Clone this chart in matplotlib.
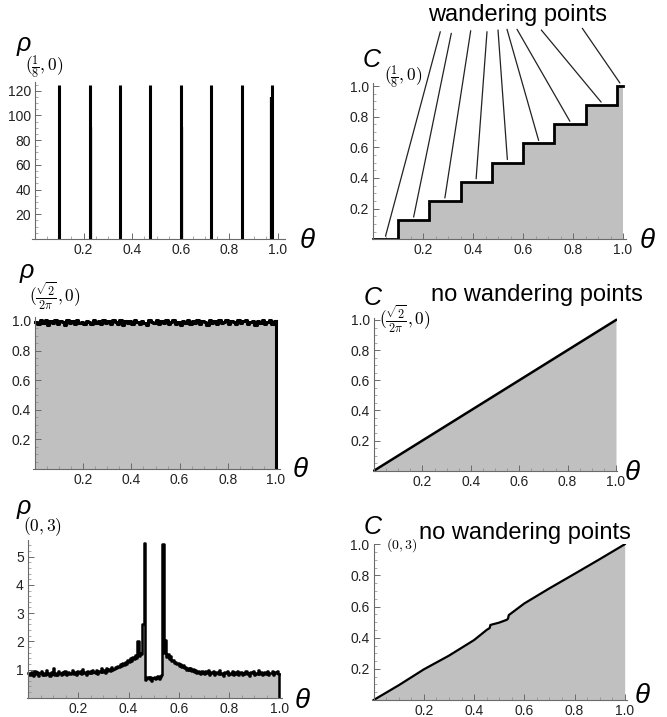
import numpy as np
import matplotlib.pyplot as plt
from matplotlib.ticker import MultipleLocator

plt.rcParams['mathtext.fontset'] = 'cm'
plt.rcParams['font.family'] = ['Liberation Sans', 'DejaVu Sans']

# -----------------------------
# DATA
# -----------------------------
# top-left: density spikes for (1/8, 0)
spike_x = [0.1, 0.225, 0.35, 0.475, 0.6, 0.725, 0.85, 0.975]
spike_h = [125, 125, 125, 125, 125, 125, 125, 125]
side_x = [0.229, 0.604, 0.971]
side_h = [91, 91, 115]

# top-right: staircase CDF
stair_edges = [0.0, 0.1, 0.225, 0.35, 0.475, 0.6, 0.725, 0.85, 0.975, 1.0]
stair_vals = [0.0, 0.125, 0.25, 0.375, 0.5, 0.625, 0.75, 0.875, 1.0]

# middle-left: density for (sqrt2/2pi, 0), 100 bins
rho_mid = [
    0.995, 0.978, 1.005, 0.985, 1.008, 0.975, 0.998, 0.988, 1.004, 0.980,
    1.002, 0.990, 0.976, 1.006, 0.984, 0.999, 0.979, 1.007, 0.987, 0.996,
    0.981, 1.003, 0.992, 0.977, 1.005, 0.986, 1.000, 0.982, 1.008, 0.989,
    0.997, 0.978, 1.004, 0.991, 0.983, 1.006, 0.975, 0.999, 0.988, 1.003,
    0.980, 1.007, 0.993, 0.979, 1.001, 0.986, 0.972, 1.005, 0.990, 0.984,
    1.008, 0.977, 0.998, 0.987, 1.004, 0.981, 0.995, 1.006, 0.983, 0.992,
    0.976, 1.003, 0.989, 1.007, 0.980, 0.997, 0.985, 1.005, 0.978, 1.001,
    0.991, 0.974, 1.006, 0.988, 0.999, 0.982, 1.004, 0.986, 0.996, 1.008,
    0.979, 1.002, 0.990, 0.977, 1.005, 0.984, 0.998, 1.007, 0.981, 0.993,
    1.003, 0.976, 0.999, 0.987, 1.006, 0.980, 0.995, 1.004, 0.983, 1.001,
]

# middle-right: linear CDF
cdf_mid_x = [0.0, 1.0]
cdf_mid_y = [0.0, 1.0]

# bottom-left: density for (0, 3), 200 bins
rho_bot = [
    0.88, 0.80, 0.92, 0.85, 0.78, 0.95, 0.83, 0.90, 0.76, 0.87,
    0.93, 0.81, 0.86, 0.79, 0.97, 0.84, 0.89, 0.77, 0.91, 0.85,
    1.05, 0.82, 0.88, 0.80, 0.94, 0.86, 0.79, 0.90, 0.84, 0.96,
    0.81, 0.87, 0.92, 0.83, 0.89, 0.98, 0.85, 0.91, 0.80, 0.93,
    0.88, 0.95, 0.84, 1.02, 0.87, 0.90, 0.82, 0.96, 0.89, 0.93,
    0.86, 1.00, 0.91, 0.88, 0.97, 0.85, 0.94, 0.90, 1.04, 0.92,
    0.98, 0.89, 1.06, 0.95, 1.01, 0.93, 1.08, 0.99, 1.03, 1.10,
    1.05, 1.12, 1.08, 1.18, 1.11, 1.22, 1.15, 1.28, 1.20, 1.32,
    1.25, 1.40, 1.30, 1.45, 1.36, 1.52, 1.42, 2.00, 1.48, 1.60,
    1.55, 2.60,
    5.50,
    0.62, 0.70, 0.75, 0.66, 0.72, 0.58, 0.69, 0.74, 0.65, 0.71,
    0.78, 0.68, 0.73, 0.80,
    5.45,
    1.60, 2.05, 1.45, 1.55, 1.38, 1.48, 1.30, 1.35, 1.22, 1.28,
    1.18, 1.24, 1.12, 1.20, 1.08, 1.15, 1.05, 1.10, 1.00, 1.06,
    0.98, 1.04, 0.94, 1.02, 0.92, 0.99, 0.88, 0.96, 0.91, 0.85,
    0.95, 0.89, 0.84, 0.93, 0.87, 0.98, 0.82, 0.90, 0.86, 0.94,
    0.80, 0.88, 0.92, 0.85, 0.97, 0.83, 0.89, 0.78, 0.91, 0.86,
    0.95, 0.81, 0.88, 0.84, 0.93, 0.79, 0.90, 0.85, 0.96, 0.82,
    0.87, 0.92, 0.80, 0.89, 0.84, 0.95, 0.83, 0.88, 0.78, 0.91,
    0.86, 0.94, 0.81, 0.89, 0.85, 0.97, 0.83, 0.90, 0.79, 0.88,
    0.92, 0.84, 0.96, 0.82, 0.89, 0.86, 0.93, 0.80, 0.90, 0.87,
    0.95, 0.84,
]

# bottom-right: CDF for (0, 3)
cdf_bot_x = [0.0, 0.1, 0.2, 0.3, 0.4, 0.45, 0.462, 0.465, 0.5, 0.53, 0.535,
             0.538, 0.6, 0.7, 0.8, 0.9, 1.0]
cdf_bot_y = [0.0, 0.095, 0.197, 0.285, 0.385, 0.45, 0.462, 0.482, 0.497, 0.515,
             0.522, 0.545, 0.62, 0.717, 0.81, 0.904, 1.0]

GRAY = '#c0c0c0'
AXC = '#6a6a6a'

# -----------------------------
# FIGURE / HELPERS
# -----------------------------
W, H = 667, 717
fig = plt.figure(figsize=(W / 100, H / 100), dpi=100)


def make_ax(ox, oy, sx, sy, xlim, ylim, yticks, ylabels, ymin):
    left = ox + xlim[0] * sx
    right = ox + xlim[1] * sx
    bottom = oy - ylim[0] * sy
    top = oy - ylim[1] * sy
    ax = fig.add_axes([left / W, 1 - bottom / H, (right - left) / W, (bottom - top) / H])
    ax.set_xlim(xlim)
    ax.set_ylim(ylim)
    ax.patch.set_alpha(0)
    for s in ['top', 'right']:
        ax.spines[s].set_visible(False)
    for s in ['left', 'bottom']:
        ax.spines[s].set_position(('data', 0))
        ax.spines[s].set_color(AXC)
        ax.spines[s].set_linewidth(0.8)
    ax.set_xticks([0.2, 0.4, 0.6, 0.8, 1.0])
    ax.set_xticklabels(['0.2', '0.4', '0.6', '0.8', '1.0'])
    ax.set_yticks(yticks)
    ax.set_yticklabels(ylabels)
    ax.xaxis.set_minor_locator(MultipleLocator(0.05))
    ax.yaxis.set_minor_locator(MultipleLocator(ymin))
    ax.tick_params(which='major', direction='in', length=4, width=0.7, color=AXC,
                   labelcolor='#222222', labelsize=10, pad=3)
    ax.tick_params(which='minor', direction='in', length=2, width=0.5, color='#888888')
    return ax


def ftext(x, y, s, **kw):
    fig.text(x / W, 1 - y / H, s, **kw)


unit_ticks = [0.2, 0.4, 0.6, 0.8, 1.0]
unit_labels = ['0.2', '0.4', '0.6', '0.8', '1.0']

# -----------------------------
# TOP-LEFT
# -----------------------------
ax = make_ax(35, 239, 243, 1.236, (-0.014, 1.03), (0, 127.3),
             [20, 40, 60, 80, 100, 120], ['20', '40', '60', '80', '100', '120'], 5)
ax.vlines(spike_x, 0, spike_h, color='black', lw=2.2)
ax.vlines(side_x, 0, side_h, color='black', lw=1.6)

# -----------------------------
# TOP-RIGHT
# -----------------------------
ax = make_ax(373, 239.3, 250, 153.3, (-0.005, 1.012), (0, 1.02),
             unit_ticks, unit_labels, 0.05)
sx = np.repeat(stair_edges, 2)[1:-1]
sy = np.repeat(stair_vals, 2)
ax.fill_between(sx, 0, sy, color=GRAY, lw=0)
ax.plot(sx, sy, color='black', lw=2.0, solid_joinstyle='miter')

# annotation lines from "wandering points"
starts = [(440.3, 31.7), (451.3, 33.3), (470.7, 30.7), (487, 31.7), (498, 30),
          (507, 29.3), (517, 29.3), (541.3, 30), (582.3, 28.3)]
mids = [(stair_edges[i] + stair_edges[i + 1]) / 2 for i in range(len(stair_vals))]
for (px_, py_), mx, v in zip(starts, mids, stair_vals):
    ax.annotate('', xy=(mx, v + 0.02), xycoords='data',
                xytext=(px_, H - py_), textcoords='figure pixels',
                arrowprops=dict(arrowstyle='-', lw=0.9, color='#222222',
                                shrinkA=0, shrinkB=0),
                annotation_clip=False)

# -----------------------------
# MIDDLE-LEFT
# -----------------------------
ax = make_ax(35, 469, 241, 148, (-0.01, 1.017), (0, 1.03),
             unit_ticks, unit_labels, 0.05)
n = len(rho_mid)
edges = np.linspace(0, 1, n + 1)
yy = np.append(rho_mid, rho_mid[-1])
ax.fill_between(edges, 0, yy, step='post', color=GRAY, lw=0)
ax.step(edges, yy, where='post', color='black', lw=2.2)
ax.plot([1.0, 1.0], [0, rho_mid[-1]], color='black', lw=2.2)

# -----------------------------
# MIDDLE-RIGHT
# -----------------------------
ax = make_ax(374, 470.7, 242, 150.7, (-0.005, 1.005), (0, 1.013),
             unit_ticks, unit_labels, 0.05)
ax.fill_between(cdf_mid_x, 0, cdf_mid_y, color=GRAY, lw=0)
ax.plot(cdf_mid_x, cdf_mid_y, color='black', lw=1.8)

# -----------------------------
# BOTTOM-LEFT
# -----------------------------
ax = make_ax(28, 697.7, 251.3, 28.2, (-0.005, 1.012), (0, 5.59),
             [1, 2, 3, 4, 5], ['1', '2', '3', '4', '5'], 0.2)
n = len(rho_bot)
edges = np.linspace(0, 1, n + 1)
yy = np.append(rho_bot, rho_bot[-1])
ax.fill_between(edges, 0, yy, step='post', color=GRAY, lw=0)
ax.step(edges, yy, where='post', color='black', lw=1.8)
ax.plot([1.0, 1.0], [0, rho_bot[-1]], color='black', lw=1.8)

# -----------------------------
# BOTTOM-RIGHT
# -----------------------------
ax = make_ax(373.7, 700, 251, 155.7, (-0.005, 1.01), (0, 1.004),
             unit_ticks, unit_labels, 0.05)
ax.fill_between(cdf_bot_x, 0, cdf_bot_y, color=GRAY, lw=0)
ax.plot(cdf_bot_x, cdf_bot_y, color='black', lw=1.6)

# -----------------------------
# LABELS
# -----------------------------
sym = dict(fontsize=18, style='italic', color='black', ha='left', va='baseline')
sub = dict(fontsize=12.5, color='black', ha='left', va='center')

ftext(17, 51, 'ρ', **sym)
ftext(25, 67, r'$(\frac{1}{8},0)$', **sub)
ftext(20, 278, 'ρ', **sym)
ftext(29, 296, r'$(\frac{\sqrt{2}}{2\pi},0)$', **sub)
ftext(17, 514, 'ρ', **sym)
ftext(23, 527, r'$(0,3)$', **sub)

ftext(363, 67, 'C', **sym)
ftext(384, 77, r'$(\frac{1}{8},0)$', **sub)
ftext(364, 305, 'C', **sym)
ftext(379, 318.5, r'$(\frac{\sqrt{2}}{2\pi},0)$', **sub)
ftext(364, 534, 'C', **sym)
ftext(386, 545, r'$(0,3)$', fontsize=10, color='black', ha='left', va='center')

theta = dict(sym, fontsize=20)
for tx, ty in [(300, 248), (640, 248), (293, 477), (625, 480), (295, 708), (635, 703)]:
    ftext(tx, ty, 'θ', **theta)

big = dict(fontsize=17, color='black', ha='left', va='baseline')
ftext(428, 20.7, 'wandering points', **big)
ftext(431, 300.7, 'no wandering points', **big)
ftext(419, 539.3, 'no wandering points', **big)

fig.savefig('out.png', dpi=100)
